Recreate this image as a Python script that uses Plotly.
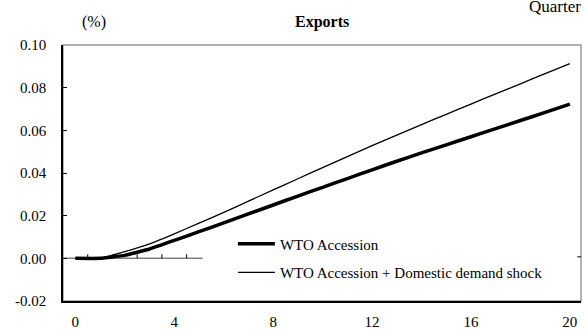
import plotly.graph_objects as go

# Quarters after the shock
quarters = list(range(0, 21))

# Exports response (%)
wto_accession = [0.0, 0.0, 0.0014, 0.0044, 0.0084, 0.0125, 0.0166, 0.0208, 0.0250, 0.0292,
                 0.0333, 0.0374, 0.0415, 0.0455, 0.0494, 0.0532, 0.0570, 0.0608, 0.0646,
                 0.0684, 0.0723]
wto_plus_demand = [0.0, 0.0, 0.0031, 0.0068, 0.0115, 0.0165, 0.0215, 0.0268, 0.0321, 0.0373,
                   0.0425, 0.0477, 0.0528, 0.0578, 0.0627, 0.0675, 0.0723, 0.0771, 0.0818,
                   0.0866, 0.0913]

x_ticks = [0, 4, 8, 12, 16, 20]
y_ticks = [-0.02, 0.0, 0.02, 0.04, 0.06, 0.08, 0.10]
y_ticktext = ["-0.02", "0.00", "0.02", "0.04", "0.06", "0.08", "0.10"]

FONT = "Liberation Serif"

fig = go.Figure()
fig.add_trace(go.Scatter(
    x=quarters, y=wto_accession, mode="lines", name="WTO Accession",
    line=dict(color="black", width=3.5, shape="spline", smoothing=0.25), legendgroup="a"
))
fig.add_trace(go.Scatter(
    x=quarters, y=wto_plus_demand, mode="lines", name="WTO Accession + Domestic demand shock",
    line=dict(color="black", width=1.3, shape="spline", smoothing=0.25), legendgroup="b"
))

shapes = [
    # gray frame (top/right)
    dict(type="rect", xref="paper", yref="paper", x0=0, x1=1, y0=0, y1=1,
         line=dict(color="#999999", width=1.5), layer="below"),
    # short zero line with small ticks
    dict(type="line", xref="x", yref="y", x0=-0.5, x1=5.15, y0=0, y1=0,
         line=dict(color="#808080", width=1.5), layer="below"),
]
for t in [0.5, 1.5, 2.5, 3.5, 4.5]:
    shapes.append(dict(type="line", xref="x", yref="y", x0=t, x1=t, y0=0, y1=0.0019,
                       line=dict(color="black", width=1), layer="below"))
shapes.append(dict(type="line", xref="paper", yref="y", x0=0.993, x1=1, y0=0.0007, y1=0.0007,
                   line=dict(color="black", width=1), layer="below"))

fig.update_layout(
    width=586, height=334,
    margin=dict(l=63, r=5, t=45, b=33, autoexpand=False),
    paper_bgcolor="white", plot_bgcolor="white",
    font=dict(family=FONT, size=15, color="black"),
    showlegend=True,
    legend=dict(x=0.328, y=0.287, xanchor="left", yanchor="top",
                bgcolor="rgba(0,0,0,0)", font=dict(family=FONT, size=15),
                traceorder="grouped", tracegroupgap=6, itemwidth=37),
    xaxis=dict(range=[-0.5, 20.45], tickvals=x_ticks, showgrid=False, zeroline=False,
               showline=True, linecolor="black", linewidth=1.5, ticks="",
               ticklabelstandoff=6, tickfont=dict(size=15), automargin=False),
    yaxis=dict(range=[-0.02, 0.10], tickvals=y_ticks, ticktext=y_ticktext, showgrid=False,
               zeroline=False, showline=True, linecolor="black", linewidth=1.5,
               ticks="inside", ticklen=4, tickcolor="black", ticklabelstandoff=12,
               tickfont=dict(size=15), automargin=False),
    shapes=shapes,
    annotations=[
        dict(text="<b>Exports</b>", xref="paper", yref="paper", x=0.5, y=1, yshift=23,
             showarrow=False, font=dict(size=16), yanchor="middle"),
        dict(text="(%)", xref="paper", yref="paper", x=0.033, y=1, yshift=23,
             showarrow=False, font=dict(size=16), yanchor="middle"),
        dict(text="Quarter", xref="paper", yref="paper", x=0.8958, y=1, yshift=39,
             xanchor="left", showarrow=False, font=dict(size=17), yanchor="middle"),
    ],
)

fig.write_html("out.html", post_script="document.body.style.margin='0';",
               config={"displayModeBar": False})
